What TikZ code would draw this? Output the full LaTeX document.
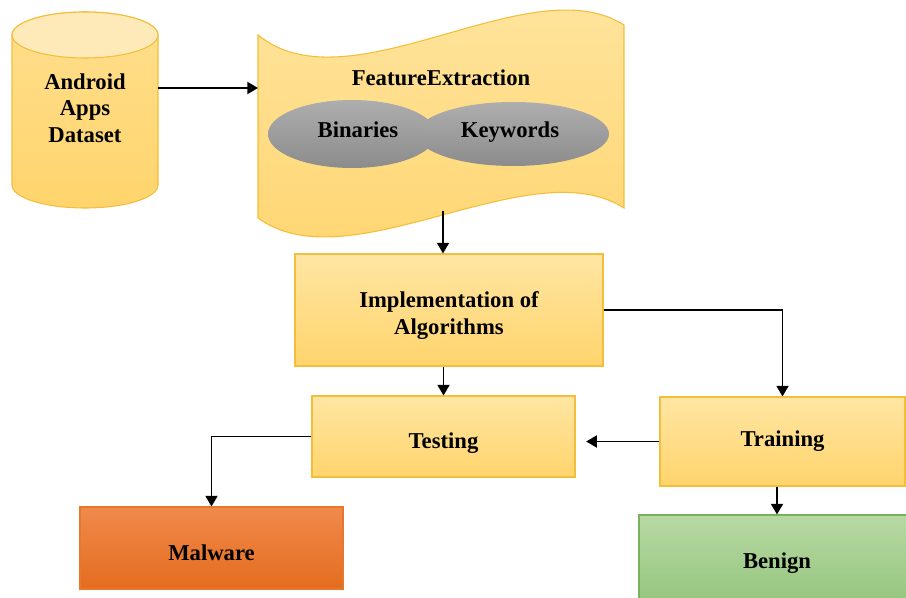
\documentclass[tikz,border=0pt]{standalone}
\usepackage{fontspec}
\setmainfont{Liberation Serif}
\usetikzlibrary{shapes.geometric,arrows.meta}
\definecolor{ylwtop}{HTML}{FFE6A3}
\definecolor{ylwbot}{HTML}{FFD46C}
\definecolor{ylwline}{HTML}{F4BD3A}
\definecolor{ylwend}{HTML}{FEEAB8}
\definecolor{orgtop}{HTML}{F08A4C}
\definecolor{orgbot}{HTML}{E46C1E}
\definecolor{orgline}{HTML}{E8772E}
\definecolor{grntop}{HTML}{B7D9A4}
\definecolor{grnbot}{HTML}{93C47B}
\definecolor{grnline}{HTML}{78B25A}
\definecolor{gratop}{HTML}{AEAEAE}
\definecolor{grabot}{HTML}{8C8C8C}
\begin{document}
\begin{tikzpicture}
  [x=0.75pt,y=-0.75pt,
   every node/.style={font=\fontsize{17}{20}\selectfont\bfseries,align=center},
   box/.style={rectangle,draw=ylwline,line width=0.8pt,top color=ylwtop,bottom color=ylwbot},
   lowtext/.style={text height=22pt,text depth=4pt},
   oval/.style={ellipse,top color=gratop,bottom color=grabot},
   arr/.style={-{Triangle[length=8pt,width=9pt]},line width=1.4pt,black}]
\clip (0,0) rectangle (906,598);

% dataset
\draw[draw=ylwline,line width=0.8pt,top color=ylwtop!60!ylwbot,bottom color=ylwbot]
  (12,35) -- (12,185) arc[start angle=180,end angle=0,x radius=73,y radius=23]
  -- (158,35) arc[start angle=0,end angle=-180,x radius=73,y radius=23] -- cycle;
\draw[draw=ylwline,line width=0.8pt,fill=ylwend] (85,35) ellipse[x radius=73,y radius=23];
\node (data)[minimum width=109.5pt] at (85,108) {Android\\Apps\\Dataset};

% feature extraction
\draw[draw=ylwline,line width=0.8pt,top color=ylwtop,bottom color=ylwbot]
  (258,35) .. controls (350,110) and (530,-35) .. (624,25) -- (624,208)
  .. controls (530,148) and (350,285) .. (258,218) -- cycle;
\node (fe) at (441,78) {FeatureExtraction};
\node (bin)[oval,minimum width=126pt,minimum height=51pt] at (352,134) {};
\node (key)[oval,minimum width=144pt,minimum height=48pt] at (513,134) {};
\node at (358,130) {Binaries};
\node at (510,132) {Keywords};
\coordinate (fein) at (258,88);
\coordinate (feout) at (443,211);

% stages
\node (impl)[box,minimum width=231pt,minimum height=84pt] at (449,310) {\rule{0pt}{20pt}Implementation of\\Algorithms};
\node (test)[box,lowtext,minimum width=197.25pt,minimum height=60.75pt] at (443.5,436.5) {Testing};
\node (train)[box,minimum width=183.75pt,minimum height=66.75pt] at (782.5,441.5) {Training};
\node (mal)[rectangle,lowtext,draw=orgline,line width=0.8pt,top color=orgtop,bottom color=orgbot,
  minimum width=197.25pt,minimum height=61.5pt] at (211.5,548) {Malware};
\node (ben)[rectangle,draw=grnline,line width=0.8pt,top color=grntop,bottom color=grnbot,
  minimum width=207pt,minimum height=72pt] at (777,563) {Benign};

\draw[arr] (data.east |- fein) -- (fein);
\draw[arr] (feout) -- (feout |- impl.north);
\draw[arr] (test.north |- impl.south) -- (test.north);
\draw[arr] (impl.east) -| (train.north);
\draw[arr,shorten >=8pt] (train.west) -- (train.west -| test.east);
\draw[arr] (train.south -| ben.north) -- (ben.north);
\draw[arr] (test.west) -| (mal.north);
\end{tikzpicture}
\end{document}
